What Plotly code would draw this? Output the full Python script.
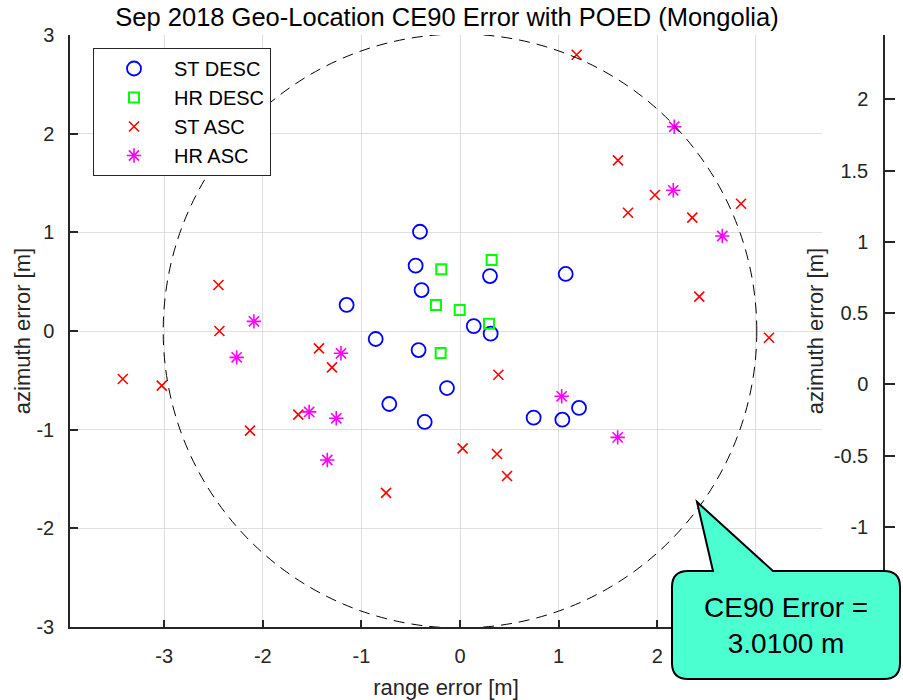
import plotly.graph_objects as go

# ---------------- data ----------------
ST_DESC_X = [-0.406, -0.45, -0.39, -1.15, 0.304, 1.072, 0.139, 0.311, -0.855, -0.42, -0.132, -0.717, -0.358, 0.747, 1.038, 1.207]
ST_DESC_Y = [1.006, 0.662, 0.415, 0.264, 0.557, 0.578, 0.05, -0.027, -0.081, -0.193, -0.578, -0.74, -0.922, -0.878, -0.899, -0.78]

HR_DESC_X = [-0.19, 0.321, -0.244, -0.003, 0.294, -0.196]
HR_DESC_Y = [0.625, 0.72, 0.264, 0.213, 0.074, -0.223]

ST_ASC_X = [-2.45, -2.44, -1.43, -1.298, -3.42, -3.025, -1.64, -2.13, -0.75, 0.389, 0.027, 0.375, 0.477,
            1.183, 1.602, 1.977, 1.704, 2.356, 2.85, 2.427, 3.134]
ST_ASC_Y = [0.466, 0.0, -0.176, -0.368, -0.487, -0.554, -0.848, -1.01, -1.64, -0.443, -1.19, -1.247, -1.47,
            2.80, 1.73, 1.378, 1.199, 1.149, 1.29, 0.348, -0.068]

HR_ASC_X = [-2.09, -2.265, -1.207, -1.53, -1.255, -1.346, 1.031, 1.599, 2.173, 2.163, 2.66]
HR_ASC_Y = [0.098, -0.267, -0.226, -0.82, -0.885, -1.307, -0.662, -1.078, 2.07, 1.426, 0.963]

CE90 = 3.01

X_TICKS = [-3, -2, -1, 0, 1, 2, 3]
X_TICK_LABELS = ["-3", "-2", "-1", "0", "1", "2", "3"]
Y_TICKS = [-3, -2, -1, 0, 1, 2, 3]
Y_TICK_LABELS = ["-3", "-2", "-1", "0", "1", "2", "3"]
Y2_TICKS = [-1.5, -1, -0.5, 0, 0.5, 1, 1.5, 2]
Y2_TICK_LABELS = ["-1.5", "-1", "-0.5", "0", "0.5", "1", "1.5", "2"]

TITLE = "Sep 2018 Geo-Location CE90 Error with POED (Mongolia)"
CALLOUT_TEXT = "CE90 Error =<br>3.0100 m"

# ---------------- layout geometry (pixels) ----------------
FW, FH = 903, 700
ML, MR, MT, MB = 70, 19, 35, 73
PW = FW - ML - MR
PH = FH - MT - MB
GRID_RIGHT = 822


def px2paper(px, py):
    return ((px - ML) / PW, (FH - MB - py) / PH)


FONT = "Liberation Sans, Arial, Helvetica, sans-serif"
AX = "#262626"
GRID = "#dfdfdf"

fig = go.Figure()

fig.add_trace(go.Scatter(x=ST_DESC_X, y=ST_DESC_Y, mode="markers", name="ST DESC",
                         marker=dict(symbol="circle-open", size=14, color="#0000ff", line=dict(width=1.8))))
fig.add_trace(go.Scatter(x=HR_DESC_X, y=HR_DESC_Y, mode="markers", name="HR DESC",
                         marker=dict(symbol="square-open", size=10, color="#00ff00", line=dict(width=2))))
fig.add_trace(go.Scatter(x=ST_ASC_X, y=ST_ASC_Y, mode="markers", name="ST ASC",
                         marker=dict(symbol="x-thin-open", size=10, color="#ff0000", line=dict(width=1.6, color="#ff0000"))))
fig.add_trace(go.Scatter(x=HR_ASC_X, y=HR_ASC_Y, mode="markers", name="HR ASC",
                         marker=dict(symbol="asterisk-open", size=12, color="#ff00ff", line=dict(width=1.6, color="#ff00ff"))))
# empty trace to attach the second y axis
fig.add_trace(go.Scatter(x=[], y=[], yaxis="y2", showlegend=False, hoverinfo="skip"))

# CE90 circle
fig.add_shape(type="circle", xref="x", yref="y", x0=-CE90, y0=-CE90, x1=CE90, y1=CE90,
              line=dict(color="black", width=1, dash="11px,7px"), layer="above")

# callout bubble (paper coords)
L, R, T, B, r = 672, 900, 571, 679, 16
tip = (697, 502)
b1, b2 = 713, 773


def P(px, py):
    x, y = px2paper(px, py)
    return f"{x:.5f},{y:.5f}"


path = (f"M {P(L + r, T)} L {P(b1, T)} L {P(*tip)} L {P(b2, T)} L {P(R - r, T)} "
        f"Q {P(R, T)} {P(R, T + r)} L {P(R, B - r)} Q {P(R, B)} {P(R - r, B)} "
        f"L {P(L + r, B)} Q {P(L, B)} {P(L, B - r)} L {P(L, T + r)} Q {P(L, T)} {P(L + r, T)} Z")
fig.add_shape(type="path", xref="paper", yref="paper", path=path,
              fillcolor="#4cffd1", line=dict(color="black", width=2), layer="above")
cx, cy = px2paper((L + R) / 2, (T + B) / 2)
fig.add_annotation(xref="paper", yref="paper", x=cx, y=cy, text=CALLOUT_TEXT, showarrow=False,
                   font=dict(family=FONT, size=28, color="black"), align="center",
                   xanchor="center", yanchor="middle")

x_dom_right = (GRID_RIGHT - ML) / PW
# x range from pixel geometry: x=0 at px 460, 98.6 px/unit
x_lo = (ML - 460) / 98.6
x_hi = (GRID_RIGHT - 460) / 98.6

fig.update_layout(
    width=FW, height=FH,
    margin=dict(l=ML, r=MR, t=MT, b=MB, pad=0),
    paper_bgcolor="white", plot_bgcolor="white",
    font=dict(family=FONT, size=20, color=AX),
    title=dict(text=TITLE, x=447 / FW, xref="container", xanchor="center",
               y=1 - 17 / FH, yref="container", yanchor="middle",
               font=dict(family=FONT, size=25.5, color="black")),
    showlegend=True,
    legend=dict(x=px2paper(93, 48)[0], y=px2paper(93, 48)[1], xanchor="left", yanchor="top",
                bgcolor="white", bordercolor=AX, borderwidth=1,
                font=dict(family=FONT, size=20, color="black"), itemwidth=70,
                tracegroupgap=0),
    xaxis=dict(domain=[0, x_dom_right], range=[x_lo, x_hi], tickvals=X_TICKS, ticktext=X_TICK_LABELS,
               showgrid=True, gridcolor=GRID, gridwidth=1, zeroline=False,
               showline=True, linecolor=AX, linewidth=1.5, mirror=False,
               ticks="inside", ticklen=7, tickcolor=AX, tickwidth=1.5, ticklabelstandoff=10,
               title=dict(text="range error [m]", font=dict(size=22, color=AX), standoff=15),
               automargin=False),
    yaxis=dict(domain=[0, 1], range=[-3, 3], tickvals=Y_TICKS, ticktext=Y_TICK_LABELS,
               showgrid=True, gridcolor=GRID, gridwidth=1, zeroline=False,
               showline=True, linecolor=AX, linewidth=1.5,
               ticks="inside", ticklen=8, tickcolor=AX, tickwidth=1.5, ticklabelstandoff=10,
               title=dict(text="azimuth error [m]", font=dict(size=22, color=AX), standoff=0),
               automargin=False),
    yaxis2=dict(overlaying="y", anchor="free", position=1.0, side="left",
                range=[(384 - 627) / 142.75, (384 - 34) / 142.75],
                tickvals=Y2_TICKS, ticktext=Y2_TICK_LABELS, showgrid=False, zeroline=False,
                showline=True, linecolor=AX, linewidth=1.5,
                ticks="inside", ticklen=10, tickcolor=AX, tickwidth=1.5, ticklabelstandoff=11,
                title=dict(text="azimuth error [m]", font=dict(size=22, color=AX), standoff=3),
                automargin=False),
)

fig.write_html("out.html", config={"displayModeBar": False},
               post_script="document.body.style.margin='0';document.body.style.overflow='hidden';")
